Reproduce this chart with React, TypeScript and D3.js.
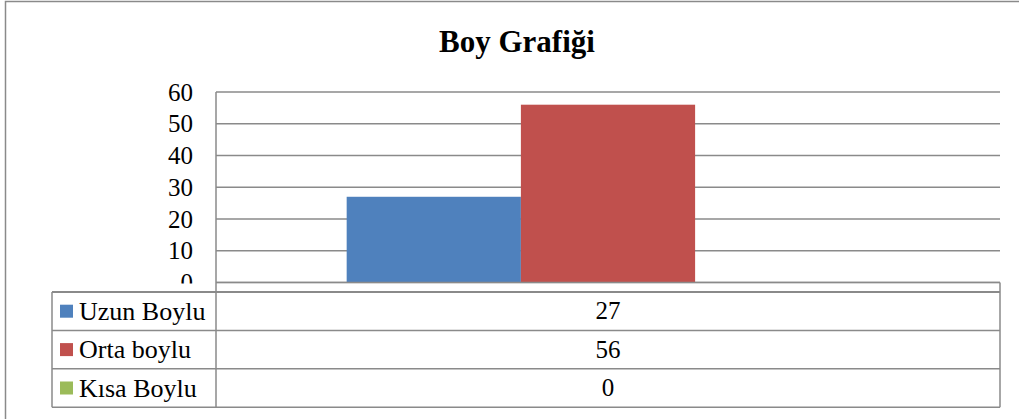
import React, { useEffect, useRef } from "react";
import * as d3 from "d3";

const title = "Boy Grafiği";
const categories = [""];
const seriesNames = ["Uzun Boylu", "Orta boylu", "Kısa Boylu"];
const seriesValues = [27, 56, 0];
const seriesColors = ["#4F81BD", "#C0504D", "#9BBB59"];
const yTicks = [0, 10, 20, 30, 40, 50, 60];

const W = 1019;
const H = 419;
const FONT = "Liberation Serif";
const GRID = "#8a8a8a";

export default function App() {
  const ref = useRef<SVGSVGElement | null>(null);

  useEffect(() => {
    const svg = d3.select(ref.current);
    svg.selectAll("*").remove();

    const plotLeft = 216;
    const plotRight = 1000;
    const plotTop = 92;
    const plotBottom = 282.5;
    const tableTop = 292;
    const rowH = 38.4;
    const legendLeft = 52;
    const tableBottom = tableTop + rowH * seriesNames.length;
    const valueX = (plotLeft + plotRight) / 2;

    const y = d3.scaleLinear().domain([0, 60]).range([plotBottom, plotTop]);
    const x0 = d3.scaleBand<string>().domain(categories).range([plotLeft, plotRight]).paddingInner(0).paddingOuter(0.25);
    const x1 = d3.scaleBand<string>().domain(seriesNames).range([0, x0.bandwidth()]);

    svg.append("rect").attr("x", 0).attr("y", 0).attr("width", W).attr("height", H).attr("fill", "#fff");
    svg.append("rect").attr("x", 5.5).attr("y", 1.5).attr("width", 1030).attr("height", 430)
      .attr("fill", "none").attr("stroke", GRID).attr("stroke-width", 1.5);

    svg.append("text").attr("x", 517).attr("y", 52).attr("text-anchor", "middle")
      .attr("font-family", FONT).attr("font-size", 31).attr("font-weight", "bold").attr("fill", "#000")
      .text(title);

    const ticks = svg.append("g");
    yTicks.forEach((t) => {
      ticks.append("line").attr("x1", plotLeft).attr("x2", plotRight).attr("y1", y(t)).attr("y2", y(t))
        .attr("stroke", GRID).attr("stroke-width", 1.5);
      ticks.append("text").attr("x", 193).attr("y", y(t)).attr("dy", "0.34em").attr("text-anchor", "end")
        .attr("font-family", FONT).attr("font-size", 25).attr("fill", "#000").text(String(t));
    });

    categories.forEach((c) => {
      seriesNames.forEach((s, i) => {
        const v = seriesValues[i];
        svg.append("rect")
          .attr("x", (x0(c) ?? 0) + (x1(s) ?? 0))
          .attr("y", y(v))
          .attr("width", x1.bandwidth())
          .attr("height", y(0) - y(v))
          .attr("fill", seriesColors[i]);
      });
    });

    // data table
    svg.append("rect").attr("x", legendLeft - 2).attr("y", plotBottom + 1)
      .attr("width", plotRight - legendLeft + 4).attr("height", tableTop - plotBottom - 1).attr("fill", "#fff");
    svg.append("line").attr("x1", plotLeft).attr("x2", plotRight).attr("y1", plotBottom).attr("y2", plotBottom)
      .attr("stroke", GRID).attr("stroke-width", 1.5);
    svg.append("line").attr("x1", legendLeft).attr("x2", plotRight).attr("y1", tableTop).attr("y2", tableTop)
      .attr("stroke", GRID).attr("stroke-width", 2);

    seriesNames.forEach((s, i) => {
      const top = tableTop + rowH * i;
      const cy = top + rowH / 2;
      svg.append("line").attr("x1", legendLeft).attr("x2", plotRight).attr("y1", top + rowH).attr("y2", top + rowH)
        .attr("stroke", GRID).attr("stroke-width", 1.5);
      svg.append("rect").attr("x", 60).attr("y", cy - 6.5).attr("width", 13).attr("height", 13).attr("fill", seriesColors[i]);
      svg.append("text").attr("x", 79).attr("y", cy).attr("dy", "0.33em")
        .attr("font-family", FONT).attr("font-size", 26).attr("fill", "#000").text(s);
      svg.append("text").attr("x", valueX).attr("y", cy).attr("dy", "0.33em").attr("text-anchor", "middle")
        .attr("font-family", FONT).attr("font-size", 25).attr("fill", "#000").text(String(seriesValues[i]));
    });

    svg.append("line").attr("x1", plotLeft).attr("x2", plotLeft).attr("y1", plotTop).attr("y2", tableBottom)
      .attr("stroke", GRID).attr("stroke-width", 1.5);
    svg.append("line").attr("x1", legendLeft).attr("x2", legendLeft).attr("y1", tableTop).attr("y2", tableBottom)
      .attr("stroke", GRID).attr("stroke-width", 1.5);
    svg.append("line").attr("x1", plotRight).attr("x2", plotRight).attr("y1", plotBottom).attr("y2", tableBottom)
      .attr("stroke", GRID).attr("stroke-width", 1.5);
  }, []);

  return <svg ref={ref} width={W} height={H} style={{ position: "absolute", left: 0, top: 0 }} />;
}
